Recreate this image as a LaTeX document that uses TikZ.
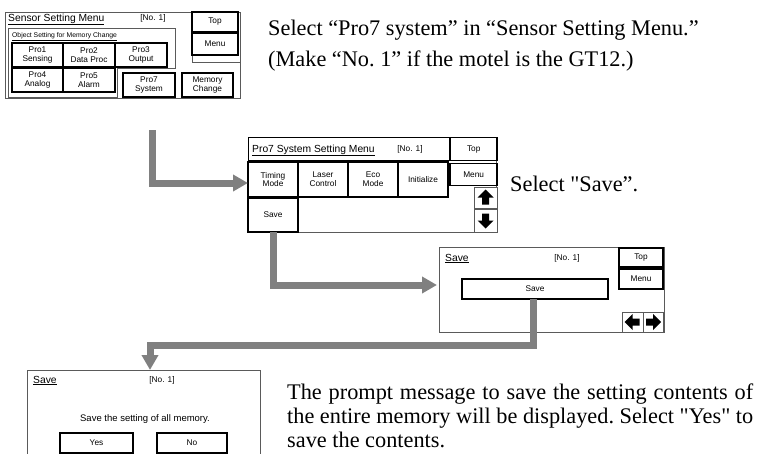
\documentclass[tikz,border=0pt]{standalone}
\usepackage{fontspec}
\setmainfont{Liberation Serif}
\newfontfamily\uifont{Liberation Sans}
\usetikzlibrary{positioning, arrows.meta}

\definecolor{flowgray}{HTML}{808080}
\definecolor{framegray}{HTML}{5A5A5A}

\tikzstyle{screen} = [rectangle, draw=framegray, line width=0.8pt, fill=white, inner sep=0pt, outer sep=0pt, anchor=north west]
\tikzstyle{btn} = [rectangle, draw=black, line width=1.5pt, fill=white, align=center, inner sep=0pt, outer sep=0pt, font=\uifont\fontsize{8.3}{8.8}\selectfont]
\tikzstyle{flatbtn} = [btn, draw=framegray, line width=1pt]
\tikzstyle{title} = [anchor=base west, inner sep=0pt, font=\uifont\fontsize{10.3}{12}\selectfont]
\tikzstyle{tag} = [anchor=base, inner sep=0pt, font=\uifont\fontsize{8.3}{10}\selectfont]
\tikzstyle{note} = [anchor=base west, inner sep=0pt, align=left, font=\frenchspacing\fontsize{22.3}{31}\selectfont]
\tikzstyle{flow} = [line width=7pt, draw=flowgray, -{Triangle[length=15pt, width=16pt]}]

\begin{document}
\begin{tikzpicture}[x=1pt, y=-1pt]
        \useasboundingbox (0,0) rectangle (758,453);

        % Sensor Setting Menu
        \node (scr1) [screen, minimum width=235pt, minimum height=86pt] at (5,12) {};
        \node (ttl1) [title] at (8,21) {\underline{Sensor Setting Menu}};
        \node (no1) [tag] at (153,20) {[No. 1]};
        \draw [framegray, line width=0.6pt] (8,28) -- (175,28) -- (175,68) -- (117,68) -- (117,97) -- (8,97) -- cycle;
        \draw [framegray, line width=0.6pt] (192,12) -- (192,62) -- (240,62);
        \node (sub1) [anchor=base west, inner sep=0pt, font=\uifont\fontsize{6.8}{8}\selectfont] at (12,37) {\underline{Object Setting for Memory Change}};
        \node (pro1) [btn, minimum width=51pt, minimum height=24pt, anchor=north west] at (12,43) {Pro1\\Sensing};
        \node (pro2) [btn, minimum width=52pt, minimum height=24pt, right=0pt of pro1] {Pro2\\Data Proc};
        \node (pro3) [btn, minimum width=52pt, minimum height=24pt, right=0pt of pro2] {Pro3\\Output};
        \node (pro4) [btn, minimum width=51pt, minimum height=24pt, below=1pt of pro1] {Pro4\\Analog};
        \node (pro5) [btn, minimum width=52pt, minimum height=24pt, right=0pt of pro4] {Pro5\\Alarm};
        \node (pro7) [btn, minimum width=52pt, minimum height=24pt, anchor=north west] at (123,73) {Pro7\\System};
        \node (memchg) [btn, minimum width=51pt, minimum height=24pt, anchor=north west] at (182,73) {Memory\\Change};
        \node (top1) [btn, minimum width=46pt, minimum height=20pt, anchor=north west] at (192,12) {Top};
        \node (menu1) [btn, minimum width=46pt, minimum height=22pt, below=1pt of top1] {Menu};

        % Pro7 System Setting Menu
        \node (scr2) [screen, minimum width=248pt, minimum height=95pt] at (248,137) {};
        \node (hdr2) [rectangle, draw=black, line width=1.2pt, inner sep=0pt, minimum width=201pt, minimum height=23pt, anchor=north west] at (248,137) {};
        \node (ttl2) [title] at (252,152) {\underline{Pro7 System Setting Menu}};
        \node (no2) [tag] at (410,151) {[No. 1]};
        \node (top2) [btn, minimum width=47pt, minimum height=23pt, right=0pt of hdr2] {Top};
        \node (menu2) [btn, minimum width=47pt, minimum height=22pt, below=3pt of top2] {Menu};
        \node (timing) [btn, minimum width=50pt, minimum height=35pt, anchor=north west] at (248,162) {Timing\\Mode};
        \node (laser) [btn, minimum width=50pt, minimum height=35pt, right=0pt of timing] {Laser\\Control};
        \node (eco) [btn, minimum width=50pt, minimum height=35pt, right=0pt of laser] {Eco\\Mode};
        \node (init) [btn, minimum width=50pt, minimum height=35pt, right=0pt of eco] {Initialize};
        \node (save2) [btn, minimum width=50pt, minimum height=34pt, below=1pt of timing] {Save};
        \node (up2) [flatbtn, minimum width=23pt, minimum height=21pt, anchor=north west] at (474,187) {};
        \node (down2) [flatbtn, minimum width=23pt, minimum height=23pt, below=1pt of up2] {};
        \fill [shift={(up2.center)}] (0,-8) -- (8,0) -- (3.5,0) -- (3.5,7) -- (-3.5,7) -- (-3.5,0) -- (-8,0) -- cycle;
        \fill [shift={(down2.center)}] (0,8) -- (8,0) -- (3.5,0) -- (3.5,-7) -- (-3.5,-7) -- (-3.5,0) -- (-8,0) -- cycle;

        % Save screen
        \node (scr3) [screen, minimum width=225pt, minimum height=85pt] at (439,247) {};
        \node (ttl3) [title] at (445,261) {\underline{Save}};
        \node (no3) [tag] at (567,260) {[No. 1]};
        \node (top3) [btn, minimum width=44pt, minimum height=19pt, anchor=north west] at (619,248) {Top};
        \node (menu3) [btn, minimum width=44pt, minimum height=20pt, below=2pt of top3] {Menu};
        \node (save3) [btn, minimum width=146pt, minimum height=20pt, anchor=north west] at (462,279) {Save};
        \node (left3) [flatbtn, minimum width=21pt, minimum height=20pt, anchor=north west] at (622,312) {};
        \node (right3) [flatbtn, minimum width=20pt, minimum height=20pt, right=0pt of left3] {};
        \fill [shift={(left3.center)}] (-8,0) -- (0,-8) -- (0,-3.5) -- (7,-3.5) -- (7,3.5) -- (0,3.5) -- (0,8) -- cycle;
        \fill [shift={(right3.center)}] (8,0) -- (0,-8) -- (0,-3.5) -- (-7,-3.5) -- (-7,3.5) -- (0,3.5) -- (0,8) -- cycle;

        % Save confirmation
        \node (scr4) [screen, minimum width=233pt, minimum height=95pt] at (27,370) {};
        \node (ttl4) [title] at (33,383) {\underline{Save}};
        \node (no4) [tag] at (162,382) {[No. 1]};
        \node (msg4) [anchor=base, inner sep=0pt, font=\uifont\fontsize{9.5}{11}\selectfont] at (145,421) {Save the setting of all memory.};
        \node (yes4) [btn, minimum width=73pt, minimum height=20pt, anchor=north west] at (60,433) {Yes};
        \node (no4b) [btn, minimum width=70pt, minimum height=20pt, anchor=north west] at (157,433) {No};

        % Notes
        \node (note1) [note] at (268,66) {Select “Pro7 system” in “Sensor Setting Menu.”\\(Make “No. 1” if the motel is the GT12.)};
        \node (note2) [note] at (510,191) {Select \textquotedbl Save”.};
        \node (note3) [note, text width=466pt, align=justify, font=\frenchspacing\fontsize{22.3}{24}\selectfont] at (287,399) {The prompt message to save the setting contents of\linebreak the entire memory will be displayed. Select \textquotedbl Yes\textquotedbl{} to\linebreak save the contents.};

        % Arrows
        \coordinate (bend1) at (152,130);
        \coordinate (tip2) at (437,285);
        \coordinate (bend3) at (150,345.5);
        \draw [flow] (bend1) |- ([yshift=-3.5pt]timing.west);
        \draw [flow] (save2.south) |- (tip2);
        \draw [flow] ([xshift=-2pt]save3.south) |- (bend3) -- (bend3 |- scr4.north);
    \end{tikzpicture}
\end{document}
